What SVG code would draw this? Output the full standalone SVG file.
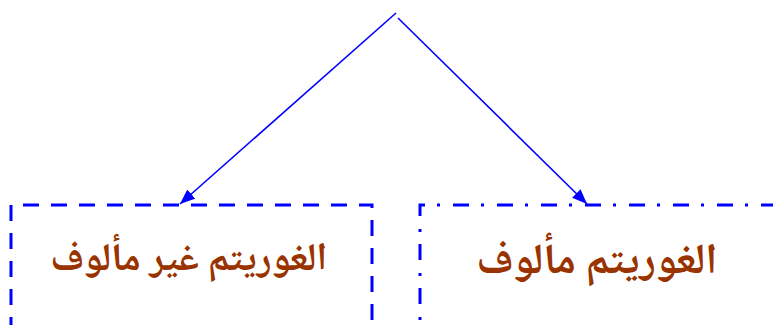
<svg xmlns="http://www.w3.org/2000/svg" width="773" height="325" viewBox="0 0 773 325">
<style>
.box{fill:none;stroke:#0000ff;stroke-width:3}
.dash{stroke-dasharray:16 12}
.dashdot{stroke-dasharray:16 12 3 13}
.conn{stroke:#0000ff;stroke-width:1.6;fill:none}
.lbl{font-family:"Noto Naskh Arabic","Noto Sans Arabic","DejaVu Sans",sans-serif;font-weight:bold;fill:#993300;text-anchor:middle;direction:rtl}
</style>
<defs>
<marker id="arr" markerUnits="userSpaceOnUse" markerWidth="16" markerHeight="12" refX="15" refY="6" orient="auto">
<path d="M0,0 L15,6 L0,12 Z" fill="#0000ff"/>
</marker>
</defs>
<rect width="773" height="325" fill="#ffffff"/>
<g id="connectors">
<line class="conn" x1="396" y1="13" x2="180" y2="204" marker-end="url(#arr)"/>
<line class="conn" x1="398" y1="18" x2="587" y2="204" marker-end="url(#arr)"/>
</g>
<g id="node-unfamiliar">
<path class="box dash" d="M11,333 V205 H372 V340"/>
<text class="lbl" x="189" y="270" font-size="39">الغوريتم غير مألوف</text>
</g>
<g id="node-familiar">
<path class="box dashdot" d="M420,348 V205 H800"/>
<text class="lbl" x="597" y="273" font-size="43">الغوريتم مألوف</text>
</g>
</svg>
